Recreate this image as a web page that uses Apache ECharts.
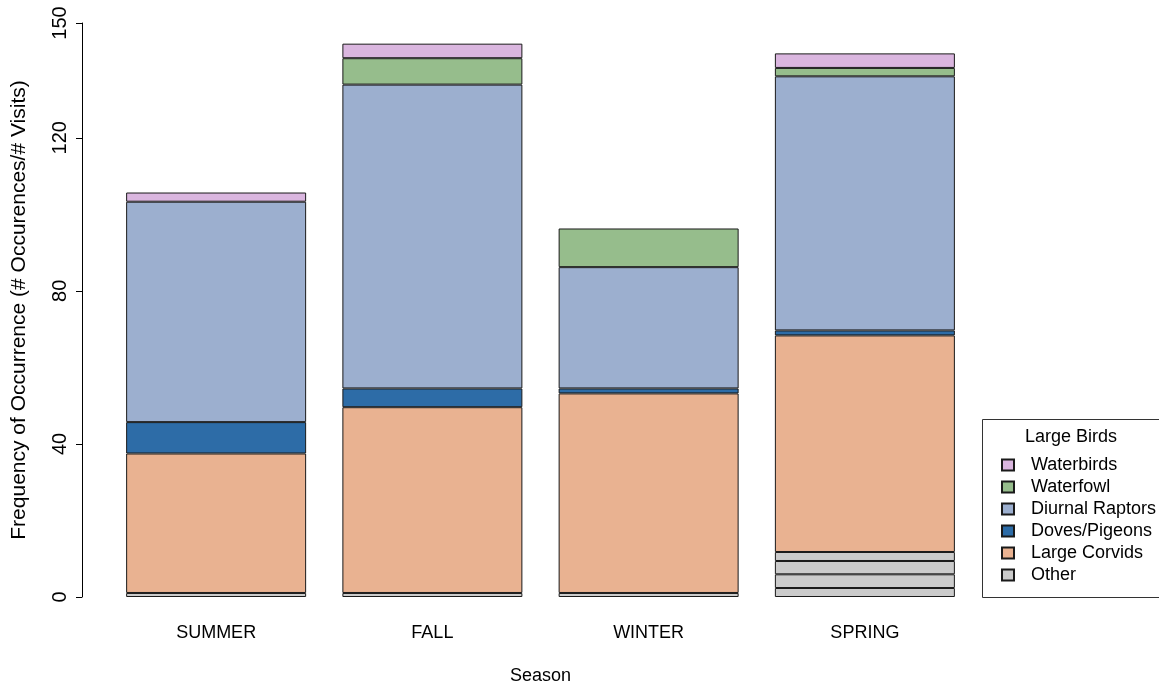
<!DOCTYPE html>
<html>
<head>
<meta charset="utf-8">
<script src="https://cdn.jsdelivr.net/npm/echarts@6/dist/echarts.min.js"></script>
<style>
html,body{margin:0;padding:0;background:#fff;}
#chart{width:1159px;height:685px;}
</style>
</head>
<body>
<div id="chart"></div>
<script>
const seasons = ['SUMMER', 'FALL', 'WINTER', 'SPRING'];
const other1 = [1.05, 1.05, 1.05, 2.35];
const other2 = [null, null, null, 3.58];
const other3 = [null, null, null, 3.48];
const other4 = [null, null, null, 2.35];
const largeCorvids = [36.45, 48.55, 52.15, 56.6];
const dovesPigeons = [8.2, 4.9, 1.3, 1.3];
const diurnalRaptors = [57.6, 79.4, 31.7, 66.4];
const waterfowl = [null, 6.9, 10.1, 2.2];
const waterbirds = [2.4, 3.8, null, 3.8];
const yTicks = [0, 40, 80, 120, 150];
const legendNames = ['Waterbirds', 'Waterfowl', 'Diurnal Raptors', 'Doves/Pigeons', 'Large Corvids', 'Other'];

const colors = {
  'Other': '#cbcbcb',
  'Large Corvids': '#e9b291',
  'Doves/Pigeons': '#2d6ca7',
  'Diurnal Raptors': '#9cafcf',
  'Waterfowl': '#96bd8c',
  'Waterbirds': '#dab6df'
};
const FONT = 'Liberation Sans, Arial, sans-serif';

function bar(name, data) {
  return {
    name: name, type: 'bar', stack: 'total', data: data, barWidth: 180,
    itemStyle: { color: colors[name], borderColor: '#1a1a1a', borderWidth: 1 },
    emphasis: { disabled: true }
  };
}

const chart = echarts.init(document.getElementById('chart'), null, { renderer: 'canvas' });
chart.setOption({
  animation: false,
  backgroundColor: '#ffffff',
  textStyle: { fontFamily: FONT },
  grid: { left: 108, right: 186, top: 23, bottom: 88, outerBoundsMode: 'none', containLabel: false },
  xAxis: {
    type: 'category', data: seasons,
    axisLine: { show: false }, axisTick: { show: false },
    axisLabel: { color: '#000', fontSize: 18, margin: 27, fontFamily: FONT },
    name: 'Season', nameLocation: 'middle', nameGap: 70,
    nameTextStyle: { color: '#000', fontSize: 18, fontFamily: FONT }
  },
  yAxis: {
    type: 'value', min: 0, max: 150, offset: 26,
    splitLine: { show: false },
    axisLine: { show: true, lineStyle: { color: '#000', width: 1 } },
    axisTick: { show: true, length: 6, lineStyle: { color: '#000' }, customValues: yTicks },
    axisLabel: { color: '#000', fontSize: 20, rotate: 90, margin: 12, fontFamily: FONT, customValues: yTicks },
    name: 'Frequency of Occurrence (# Occurences/# Visits)', nameLocation: 'middle', nameGap: 52, nameRotate: 90,
    nameTextStyle: { color: '#000', fontSize: 21, fontFamily: FONT }
  },
  legend: {
    data: legendNames, orient: 'vertical', left: 996, top: 450,
    icon: 'rect', itemWidth: 12, itemHeight: 11, itemGap: 2,
    textStyle: { color: '#000', fontSize: 18, fontFamily: FONT, padding: [0, 0, 0, 12], lineHeight: 20 },
    selectedMode: false
  },
  graphic: [
    { type: 'rect', shape: { x: 982.5, y: 419.5, width: 200, height: 178 }, style: { fill: '#fff', stroke: '#333', lineWidth: 1 }, z: -1 },
    { type: 'text', x: 1071, y: 437, style: { text: 'Large Birds', fill: '#000', font: '18px ' + FONT, align: 'center', verticalAlign: 'middle' } }
  ],
  series: [
    bar('Other', other1),
    bar('Other', other2),
    bar('Other', other3),
    bar('Other', other4),
    bar('Large Corvids', largeCorvids),
    bar('Doves/Pigeons', dovesPigeons),
    bar('Diurnal Raptors', diurnalRaptors),
    bar('Waterfowl', waterfowl),
    bar('Waterbirds', waterbirds)
  ]
});
</script>
</body>
</html>
